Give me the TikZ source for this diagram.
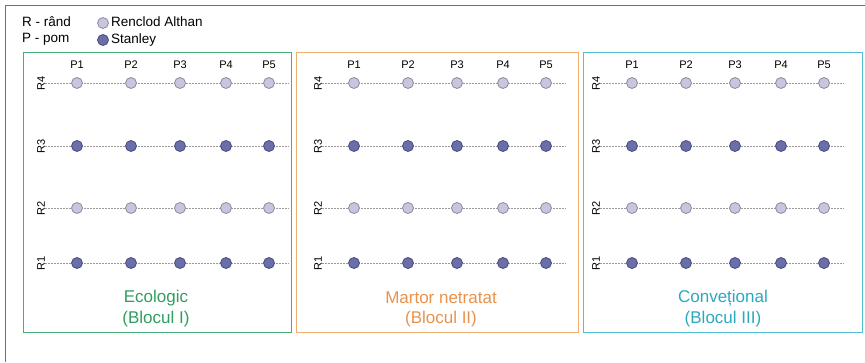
\documentclass[tikz,border=0pt]{standalone}
\usepackage{fontspec}
\setmainfont{Liberation Sans}
\definecolor{lightfill}{HTML}{CBC4DE}
\definecolor{lightline}{HTML}{8C8A9C}
\definecolor{darkfill}{HTML}{6A6FAA}
\definecolor{darkline}{HTML}{474B7E}
\definecolor{rowgray}{HTML}{9A9A9A}
\definecolor{framegray}{HTML}{707070}
\definecolor{ecogreen}{HTML}{2F9E5E}
\definecolor{ecoline}{HTML}{48AE7A}
\definecolor{martorange}{HTML}{E8924C}
\definecolor{martline}{HTML}{F0B070}
\definecolor{convcyan}{HTML}{2AA8C2}
\definecolor{convline}{HTML}{50C0D2}
\begin{document}
\begin{tikzpicture}[x=1pt,y=-1pt,
  tree/.style={circle,line width=0.8pt,minimum size=11pt,inner sep=0pt},
  lighttree/.style={tree,fill=lightfill,draw=lightline},
  darktree/.style={tree,fill=darkfill,draw=darkline},
  rowline/.style={draw=rowgray,dash pattern=on 2pt off 1pt,line width=0.5pt},
  small/.style={font=\fontsize{11}{12}\selectfont,inner sep=0pt},
  legend/.style={font=\fontsize{13.5}{15}\selectfont,inner sep=0pt,anchor=west},
  title/.style={font=\fontsize{17}{20}\selectfont,inner sep=0pt,align=center},
  blockbox/.style={line width=1pt}
]
\useasboundingbox (0,0) rectangle (865,362);

% outer frame (top and left edges)
\draw[framegray,line width=1pt] (865,5) -- (5,5) -- (5,362);

% legend
\node[legend] (lr) at (22,22) {R - rând};
\node[legend] (lp) at (22,39) {P - pom};
\node[lighttree] (leglight) at (103,23) {};
\node[darktree] (legdark) at (103,40) {};
\node[legend] (lrenclod) at (111,22) {Renclod Althan};
\node[legend] (lstanley) at (111,40) {Stanley};

% blocks: name / x-offset / left / right / line colour / text colour / title x / title / subtitle
\foreach \b/\off/\bl/\br/\lc/\tc/\tx/\ttl/\sub in {
  1/0/23/291/ecoline/ecogreen/156/{Ecologic}/{(Blocul I)},
  2/277/296/578/martline/martorange/441/{Martor netratat}/{(Blocul II)},
  3/555/583/862/convline/convcyan/723/{Convețional}/{(Blocul III)}}
{
  \draw[blockbox,\lc] (\bl,52) rectangle (\br,332);
  \node[title,text=\tc] (t\b) at (\tx,298) {\ttl};
  \node[title,text=\tc] (s\b) at (\tx,319) {\sub};
  % column labels
  \foreach \p/\px in {1/77,2/131,3/180,4/226,5/269}
    \node[small] (b\b p\p) at (\px+\off,65) {P\p};
  % rows
  \foreach \r/\ry/\kind in {1/263/darktree,2/208/lighttree,3/146/darktree,4/83/lighttree}
  {
    \node[small,rotate=90] (b\b r\r) at (41+\off,\ry) {R\r};
    \coordinate (b\b e\r) at (289+\off,\ry);
    \draw[rowline] (b\b r\r.south) -- (b\b e\r);
    \foreach \p/\px in {1/77,2/131,3/180,4/226,5/269}
      \node[\kind] (b\b r\r p\p) at (\px+\off,\ry) {};
  }
}
\end{tikzpicture}
\end{document}
